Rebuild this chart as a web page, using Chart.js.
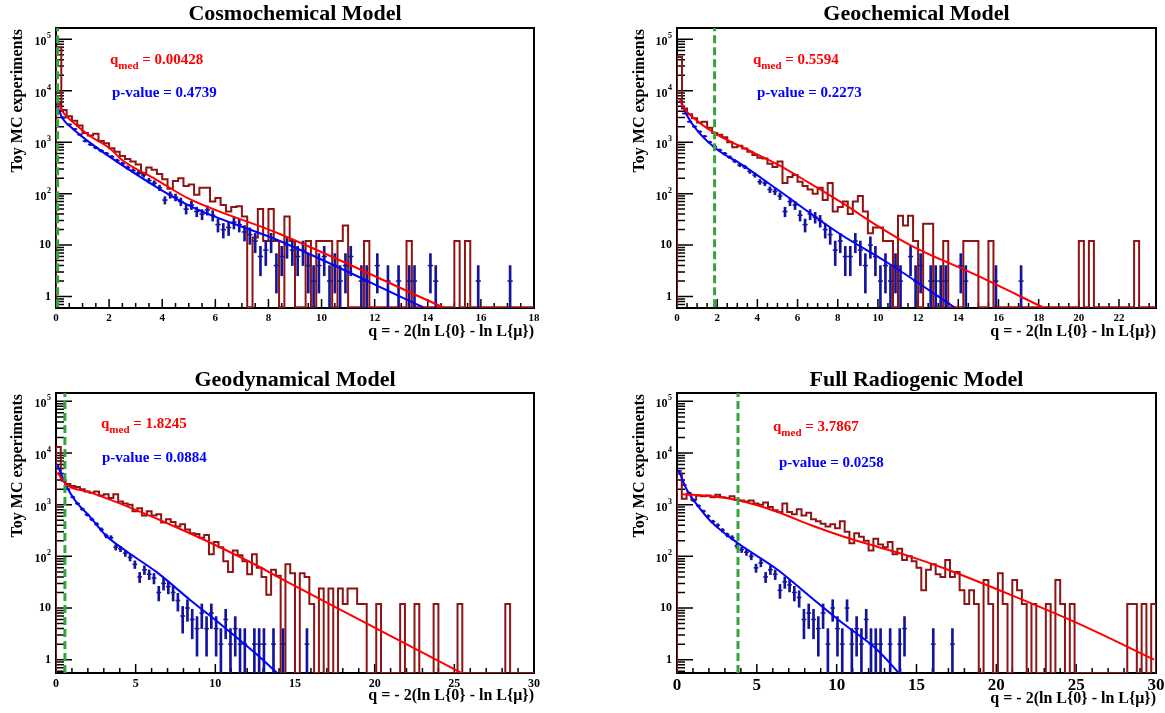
<!DOCTYPE html>
<html>
<head>
<meta charset="utf-8">
<title>Toy MC test statistic distributions</title>
<script src="https://cdn.jsdelivr.net/npm/chart.js@4.4.1/dist/chart.umd.min.js"></script>
<style>
  body { margin: 0; background: #fff; }
  #wrap { position: relative; width: 1165px; height: 713px; }
  canvas { position: absolute; }
</style>
</head>
<body>
<div id="wrap">
  <canvas id="c1" width="582" height="356" style="left:0;top:0"></canvas>
  <canvas id="c2" width="583" height="356" style="left:582px;top:0"></canvas>
  <canvas id="c3" width="582" height="357" style="left:0;top:356px"></canvas>
  <canvas id="c4" width="583" height="357" style="left:582px;top:356px"></canvas>
</div>
<script>
// ---- data ----

// error weight of the blue (background-only) toys
const blueWeight = 2;

// Cosmochemical model
const cosmoBin = 0.2;
const cosmoRed = [70000,4200,3200,2600,2100,1500,1350,1450,1050,950,
  760,650,540,470,420,370,250,320,290,240,
  190,125,175,200,140,150,95,130,130,70,
  82,60,45,55,57,36,0,14,50,12,
  50,12,0,36,12,0,0,12,0,12,
  12,12,0,12,24,0,0,0,12,0,
  0,0,0,0,0,0,12,0,0,0,
  0,0,0,0,0,12,0,12,0,0,
  0,0,0,0,0,0,0,0,0,0];
const cosmoBlue = [5500,3000,2200,1800,1400,1050,900,780,680,600,
  520,440,380,320,280,250,230,180,160,130,
  75,95,85,70,50,60,45,40,48,38,
  25,20,22,28,25,18,16,12,6,8,
  12,4,6,10,8,6,8,4,2,4,
  6,2,4,2,4,6,0,2,2,0,
  4,0,2,0,2,0,2,2,0,0,
  4,2,0,0,0,0,0,0,0,2,
  0,0,0,0,0,2];
const cosmoRedFitX = [0.05,0.25,0.6,1.25,2.0,2.5,3.75,5.0,8.43,14.57];
const cosmoRedFitY = [6500,3900,2550,1350,780,445,190,80,16.4,0.62];
const cosmoBlueFitX = [0.05,0.25,0.63,1.25,2.5,5.0,8.43,13.83];
const cosmoBlueFitY = [5000,2870,1830,1000,355,59,12,0.62];
const cosmoQmedLine = 0.06;

// Geochemical model
const geochemBin = 0.25;
const geochemRed = [45000,4500,3500,2900,2400,2500,1900,1500,1400,1250,
  1000,800,850,750,650,560,500,480,380,330,
  420,160,210,230,170,140,120,100,130,75,
  160,45,55,70,40,70,90,45,17,22,
  22,12,12,0,37,24,37,12,0,26,
  26,0,0,12,0,0,0,12,12,12,
  0,0,12,0,0,0,0,0,0,0,
  0,0,0,0,0,0,0,0,0,0,
  12,0,12,0,0,0,0,0,0,0,
  0,12,0,0,0,0];
const geochemBlue = [6000,3600,2500,2000,1600,1300,1000,820,700,600,
  510,430,360,330,270,230,170,160,120,110,
  90,45,70,60,38,25,40,35,30,20,
  16,8,12,6,6,12,8,4,10,6,
  2,4,2,4,2,0,6,2,4,0,
  2,2,2,2,0,0,4,2,0,0,
  0,0,0,2,0,0,0,0,2];
const geochemRedFitX = [0.15,0.25,1.0,2.0,3.3,5.0,6.6,8.3,9.95,11.6,14.9,18.2];
const geochemRedFitY = [6700,5300,2600,1400,780,370,160,63,24,10,2.6,0.62];
const geochemBlueFitX = [0.22,0.5,1.0,2.0,3.3,5.0,8.0,10.58,13.8];
const geochemBlueFitY = [5900,3300,1700,720,350,120,17.6,4.3,0.62];
const geochemQmedLine = 1.87;

// Geodynamical model
const geodynBin = 0.3;
const geodynRed = [13000,3000,2500,2300,2200,2000,1800,1700,1800,1500,
  1600,1350,1600,1150,1050,1000,750,850,620,750,
  620,650,450,520,460,380,420,330,280,270,
  230,260,110,190,150,80,50,130,105,80,
  45,110,60,40,18,55,42,0,70,47,
  0,47,40,12,0,24,0,24,0,24,
  12,24,24,12,12,0,0,12,0,0,
  0,0,12,0,0,12,0,0,0,12,
  0,0,0,0,12,0,0,0,0,0,
  0,0,0,0,12,0,0,0,0,0];
const geodynBlue = [5000,2900,2000,1400,1050,820,640,520,420,330,
  250,230,150,140,115,95,70,40,55,45,
  38,20,30,26,20,14,7,10,6,4,
  8,4,8,4,2,6,2,4,2,2,
  0,2,2,2,0,2,0,2,0,0,
  0,0,2];
const geodynRedFitX = [0.1,0.63,2.1,4.2,8.4,12.55,14.06,20.9,25.47];
const geodynRedFitY = [4200,2500,1750,1000,280,68,38,3.0,0.55];
const geodynBlueFitX = [0.1,0.63,1.25,2.1,3.1,4.2,6.3,8.4,10.5,12.55,13.9];
const geodynBlueFitY = [5800,2350,1150,600,260,140,50,14.5,4.4,1.3,0.55];
const geodynQmedLine = 0.56;

// Full radiogenic model
const fullRadBin = 0.3;
const fullRadRed = [4000,1300,1600,1250,1500,1450,1500,1400,1550,1400,
  1350,1450,1250,1200,1150,1200,1050,1000,1100,900,
  780,720,1050,720,650,820,620,700,520,480,
  430,380,420,350,480,300,180,280,240,200,
  130,220,170,150,190,110,140,85,100,80,
  60,22,55,70,45,40,85,40,50,22,
  12,22,12,0,35,12,0,47,12,0,
  35,22,12,0,12,0,0,12,0,35,
  12,0,12,0,0,0,0,0,0,0,
  0,0,0,0,12,12,0,12,0,12];
const fullRadBlue = [4500,2400,1700,1200,950,750,600,470,400,320,
  260,230,160,135,120,100,60,75,40,55,
  45,22,32,28,20,16,6,8,6,4,
  8,2,10,4,2,10,2,4,2,6,
  2,2,2,0,2,0,2,4,0,0,
  0,0,0,2,0,0,0,2];
const fullRadRedFitX = [0.3,1.0,2.1,3.76,6.27,8.36,10.45,12.54,14.63,16.72,20.9,25.08,29.89];
const fullRadRedFitY = [1600,1550,1480,1230,731,404,240,154,99,59,18,5.1,1.0];
const fullRadBlueFitX = [0.1,0.63,1.25,2.1,3.76,6.3,8.4,10.4,12.5,13.9];
const fullRadBlueFitY = [4650,1900,1000,480,185,55,16,5,1.6,0.55];
const fullRadQmedLine = 3.82;

// ---- helpers ----
const SERIF = '"Liberation Serif", "Times New Roman", serif';
const DARK_RED = '#8c1414';
const NAVY = '#14149a';

// step outline of a histogram, empty bins sit on the axis floor
function histOutline(counts, width, floor) {
  const pts = [{x: 0, y: floor}];
  counts.forEach((c, i) => pts.push({x: i * width, y: c > 0 ? c : floor}));
  const end = counts.length * width;
  const last = counts[counts.length - 1];
  pts.push({x: end, y: last > 0 ? last : floor});
  pts.push({x: end, y: floor});
  return pts;
}

// vertical error bars plus bin-wide markers for the blue toys
function errorBars(counts, width, floor) {
  const bars = [], marks = [];
  counts.forEach((c, i) => {
    if (!c) return;
    const err = Math.sqrt(c * blueWeight);
    const xc = (i + 0.5) * width;
    bars.push({x: xc, y: [Math.max(c - err, floor), c + err]});
    marks.push({x: xc, y: c});
  });
  return {bars, marks};
}

function fitPoints(xs, ys) {
  return xs.map((x, i) => ({x: x, y: ys[i]}));
}

function drawSup(ctx, base, sup, right, y, size) {
  ctx.font = `bold ${Math.round(size * 0.7)}px ${SERIF}`;
  const w = ctx.measureText(sup).width;
  ctx.textAlign = 'right';
  ctx.fillText(sup, right, y - 3);
  ctx.font = `bold ${size}px ${SERIF}`;
  ctx.fillText(base, right - w - 0.5, y + 3);
}

function drawSub(ctx, x, y, color, main, sub, rest) {
  ctx.fillStyle = color;
  ctx.textAlign = 'left';
  ctx.textBaseline = 'alphabetic';
  ctx.font = `bold 15px ${SERIF}`;
  ctx.fillText(main, x, y);
  x += ctx.measureText(main).width;
  ctx.font = `bold 11px ${SERIF}`;
  ctx.fillText(sub, x, y + 5);
  x += ctx.measureText(sub).width;
  ctx.font = `bold 15px ${SERIF}`;
  ctx.fillText(rest, x, y);
}

// ROOT-like frame and inward ticks, drawn under the data
const rootFrame = {
  id: 'rootFrame',
  beforeDatasetsDraw(chart, args, o) {
    const {ctx, chartArea: a} = chart;
    const xs = chart.scales.x, ys = chart.scales.y;
    ctx.save();
    ctx.strokeStyle = '#000';
    ctx.lineWidth = 2;
    ctx.strokeRect(a.left, a.top, a.right - a.left, a.bottom - a.top);
    ctx.lineWidth = 1.5;
    ctx.beginPath();
    const nMinor = Math.floor(xs.max / o.xMinor + 1e-6);
    const perMajor = Math.round(o.xMajor / o.xMinor);
    for (let i = 0; i <= nMinor; i++) {
      const px = xs.getPixelForValue(i * o.xMinor);
      ctx.moveTo(px, a.bottom);
      ctx.lineTo(px, a.bottom - (i % perMajor === 0 ? 9 : 5));
    }
    for (let e = -1; e <= 5; e++) {
      for (let m = 1; m <= 9; m++) {
        const v = m * Math.pow(10, e);
        if (v < ys.min || v > ys.max) continue;
        const py = ys.getPixelForValue(v);
        ctx.moveTo(a.left, py);
        ctx.lineTo(a.left + (m === 1 ? 16 : 8), py);
      }
    }
    ctx.stroke();
    ctx.restore();
  }
};

// labels, titles and annotations, drawn over the data
const rootText = {
  id: 'rootText',
  afterDatasetsDraw(chart, args, o) {
    const {ctx, chartArea: a} = chart;
    const xs = chart.scales.x, ys = chart.scales.y;
    ctx.save();
    ctx.fillStyle = '#000';

    // x tick labels
    ctx.font = `bold ${o.xLabelSize}px ${SERIF}`;
    ctx.textAlign = 'center';
    ctx.textBaseline = 'alphabetic';
    for (let v = 0; v <= xs.max + 1e-6; v += o.xMajor) {
      ctx.fillText(String(v), xs.getPixelForValue(v), a.bottom + o.xLabelDrop);
    }

    // y tick labels
    ctx.textBaseline = 'middle';
    const right = a.left - 5;
    for (let e = 0; e <= 5; e++) {
      const py = ys.getPixelForValue(Math.pow(10, e));
      if (e < 2) {
        ctx.font = `bold 12px ${SERIF}`;
        ctx.textAlign = 'right';
        ctx.fillText(e === 0 ? '1' : '10', right, py);
      } else {
        drawSup(ctx, '10', String(e), right, py, 12);
      }
    }

    // panel title
    ctx.textBaseline = 'alphabetic';
    ctx.textAlign = 'center';
    ctx.font = `bold 22px ${SERIF}`;
    ctx.fillText(o.title, (a.left + a.right) / 2, a.top - o.titleGap);

    // x axis title, right aligned
    ctx.textAlign = 'right';
    ctx.font = `bold 16px ${SERIF}`;
    ctx.fillText('q = - 2(ln L{0} - ln L{\u03bc})', a.right, a.bottom + o.xTitleDrop);

    // y axis title, top aligned
    ctx.save();
    ctx.translate(o.yTitleX, a.top + 1);
    ctx.rotate(-Math.PI / 2);
    ctx.textAlign = 'right';
    ctx.textBaseline = 'middle';
    ctx.fillText('Toy MC experiments', 0, 0);
    ctx.restore();

    // annotations
    drawSub(ctx, o.qmedPos[0], o.qmedPos[1], '#ff0000', 'q', 'med', ' = ' + o.qmed);
    ctx.font = `bold 15px ${SERIF}`;
    ctx.fillStyle = '#0000ff';
    ctx.fillText('p-value = ' + o.pvalue, o.pvalPos[0], o.pvalPos[1]);
    ctx.restore();
  }
};

const panels = [
  {id: 'c1', title: 'Cosmochemical Model', bin: cosmoBin, red: cosmoRed, blue: cosmoBlue,
   redFit: fitPoints(cosmoRedFitX, cosmoRedFitY), blueFit: fitPoints(cosmoBlueFitX, cosmoBlueFitY),
   qLine: cosmoQmedLine, qmed: '0.00428', pvalue: '0.4739',
   xMax: 18, yMin: 0.62, yMax: 1.65e5, xMajor: 2, xMinor: 0.5,
   pad: {left: 56, top: 28, right: 48, bottom: 48},
   xLabelSize: 11, xLabelDrop: 13, xTitleDrop: 28, titleGap: 8, yTitleX: 18,
   qmedPos: [110, 64], pvalPos: [112, 97]},
  {id: 'c2', title: 'Geochemical Model', bin: geochemBin, red: geochemRed, blue: geochemBlue,
   redFit: fitPoints(geochemRedFitX, geochemRedFitY), blueFit: fitPoints(geochemBlueFitX, geochemBlueFitY),
   qLine: geochemQmedLine, qmed: '0.5594', pvalue: '0.2273',
   xMax: 23.84, yMin: 0.62, yMax: 1.65e5, xMajor: 2, xMinor: 0.5,
   pad: {left: 95, top: 28, right: 9, bottom: 48},
   xLabelSize: 11, xLabelDrop: 13, xTitleDrop: 28, titleGap: 8, yTitleX: 58,
   qmedPos: [171, 64], pvalPos: [175, 97]},
  {id: 'c3', title: 'Geodynamical Model', bin: geodynBin, red: geodynRed, blue: geodynBlue,
   redFit: fitPoints(geodynRedFitX, geodynRedFitY), blueFit: fitPoints(geodynBlueFitX, geodynBlueFitY),
   qLine: geodynQmedLine, qmed: '1.8245', pvalue: '0.0884',
   xMax: 30, yMin: 0.553, yMax: 1.45e5, xMajor: 5, xMinor: 1,
   pad: {left: 56, top: 37, right: 48, bottom: 40},
   xLabelSize: 12, xLabelDrop: 14, xTitleDrop: 27, titleGap: 7, yTitleX: 18,
   qmedPos: [101, 72], pvalPos: [102, 106]},
  {id: 'c4', title: 'Full Radiogenic Model', bin: fullRadBin, red: fullRadRed, blue: fullRadBlue,
   redFit: fitPoints(fullRadRedFitX, fullRadRedFitY), blueFit: fitPoints(fullRadBlueFitX, fullRadBlueFitY),
   qLine: fullRadQmedLine, qmed: '3.7867', pvalue: '0.0258',
   xMax: 30, yMin: 0.553, yMax: 1.45e5, xMajor: 5, xMinor: 1,
   pad: {left: 95, top: 37, right: 9, bottom: 40},
   xLabelSize: 17, xLabelDrop: 17, xTitleDrop: 30, titleGap: 7, yTitleX: 58,
   qmedPos: [191, 75], pvalPos: [197, 111]}
];

function makeChart(p) {
  const err = errorBars(p.blue, p.bin, p.yMin);
  new Chart(document.getElementById(p.id), {
    type: 'line',
    data: {
      datasets: [
        {label: 'q_med', data: [{x: p.qLine, y: p.yMin}, {x: p.qLine, y: p.yMax}],
         borderColor: 'rgb(52,165,60)', borderWidth: 3, borderDash: [8, 4],
         pointRadius: 0, order: 0, clip: false},
        {label: 'fit mu', data: p.redFit, borderColor: '#ff0000', borderWidth: 2,
         pointRadius: 0, cubicInterpolationMode: 'monotone', order: 1},
        {label: 'fit 0', data: p.blueFit, borderColor: '#0000ff', borderWidth: 2,
         pointRadius: 0, cubicInterpolationMode: 'monotone', order: 2},
        {label: 'toys 0 bins', data: err.marks, showLine: false, pointStyle: 'line',
         borderColor: NAVY, pointBorderColor: NAVY, pointBorderWidth: 1.5,
         pointRadius: ctx => {
           const s = ctx.chart.scales.x;
           return (s.getPixelForValue(p.bin) - s.getPixelForValue(0)) / 2;
         },
         order: 3},
        {type: 'bar', label: 'toys 0', data: err.bars, backgroundColor: NAVY,
         borderWidth: 0, barThickness: 2, order: 4},
        {label: 'toys mu', data: histOutline(p.red, p.bin, p.yMin), stepped: true,
         borderColor: DARK_RED, borderWidth: 2, pointRadius: 0, order: 5}
      ]
    },
    options: {
      responsive: false,
      devicePixelRatio: 1,
      animation: false,
      events: [],
      layout: {padding: p.pad},
      scales: {
        x: {type: 'linear', min: 0, max: p.xMax, display: false, offset: false},
        y: {type: 'logarithmic', min: p.yMin, max: p.yMax, display: false}
      },
      plugins: {
        legend: {display: false},
        tooltip: {enabled: false},
        rootFrame: {xMajor: p.xMajor, xMinor: p.xMinor},
        rootText: p
      }
    },
    plugins: [rootFrame, rootText]
  });
}

window.onload = function() {
  panels.forEach(makeChart);
};
</script>
</body>
</html>
